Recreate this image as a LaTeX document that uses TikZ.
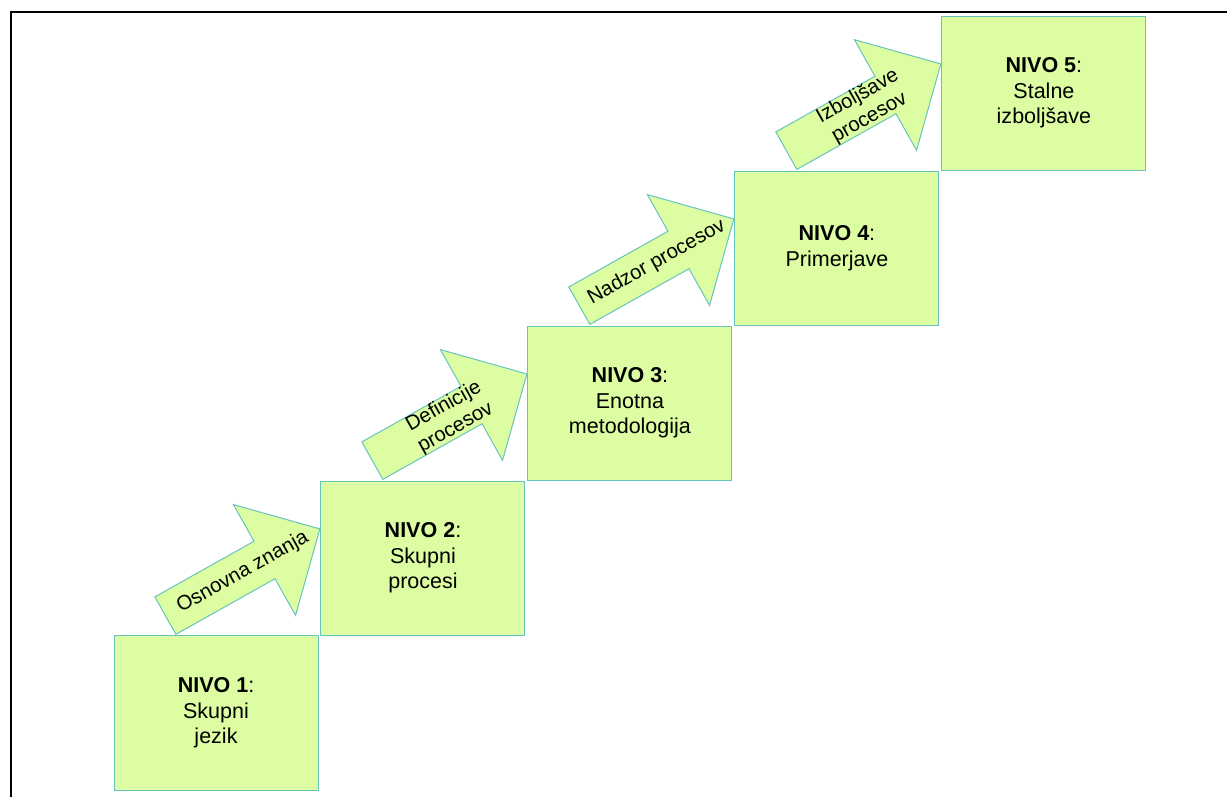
\documentclass[tikz,border=0pt]{standalone}
\usepackage{fontspec}
\setmainfont{Liberation Sans}
\usetikzlibrary{positioning,shapes.arrows,calc}
\definecolor{nivofill}{HTML}{DCFDA1}
\definecolor{nivoline}{HTML}{66C4BC}
\tikzset{
  nivo/.style={rectangle,draw=nivoline,line width=0.7pt,fill=nivofill,align=center,minimum width=5.1cm,minimum height=3.85cm,inner sep=2pt,font=\fontsize{15.3}{18.1}\selectfont},
  stair/.style={single arrow,draw=nivoline,line width=0.7pt,fill=nivofill,minimum height=4.43cm,inner xsep=0pt,inner ysep=0.525cm,single arrow head extend=1.05cm,single arrow tip angle=90,anchor=tip,rotate=29.3},
  stairtext/.style={font=\fontsize{14.5}{17.2}\selectfont,align=center,rotate=29.3,inner sep=0pt},
  pageframe/.style={line width=1.5pt,black}
}
\begin{document}
\begin{tikzpicture}
  \useasboundingbox (0,0) rectangle (30.675,19.925);
  \draw[pageframe] (30.675,19.625) -- (0.2675,19.625) -- (0.2675,0);
  \node[nivo] (n1) at (5.4,2.1) {\textbf{NIVO 1}:\\Skupni\\jezik};
  \node[nivo,above right=0pt and 0.05cm of n1] (n2) {\textbf{NIVO 2}:\\Skupni\\procesi};
  \node[nivo,above right=0pt and 0.05cm of n2] (n3) {\textbf{NIVO 3}:\\Enotna\\metodologija};
  \node[nivo,above right=0pt and 0.05cm of n3] (n4) {\textbf{NIVO 4}:\\Primerjave};
  \node[nivo,above right=0pt and 0.05cm of n4] (n5) {\textbf{NIVO 5}:\\Stalne\\izboljšave};
  \node[stair] (a1) at ($(n2.north west)!0.31!(n2.south west)$) {};
  \node[stair] (a2) at ($(n3.north west)!0.31!(n3.south west)$) {};
  \node[stair] (a3) at ($(n4.north west)!0.31!(n4.south west)$) {};
  \node[stair] (a4) at ($(n5.north west)!0.31!(n5.south west)$) {};
  \node[stairtext] (t1) at ($(a1.tail)!0.5!(a1.tip)$) {Osnovna znanja};
  \node[stairtext] (t2) at ($(a2.tail)!0.5!(a2.tip)$) {Definicije\\procesov};
  \node[stairtext] (t3) at ($(a3.tail)!0.5!(a3.tip)$) {Nadzor procesov};
  \node[stairtext] (t4) at ($(a4.tail)!0.5!(a4.tip)$) {Izboljšave\\procesov};
\end{tikzpicture}
\end{document}
